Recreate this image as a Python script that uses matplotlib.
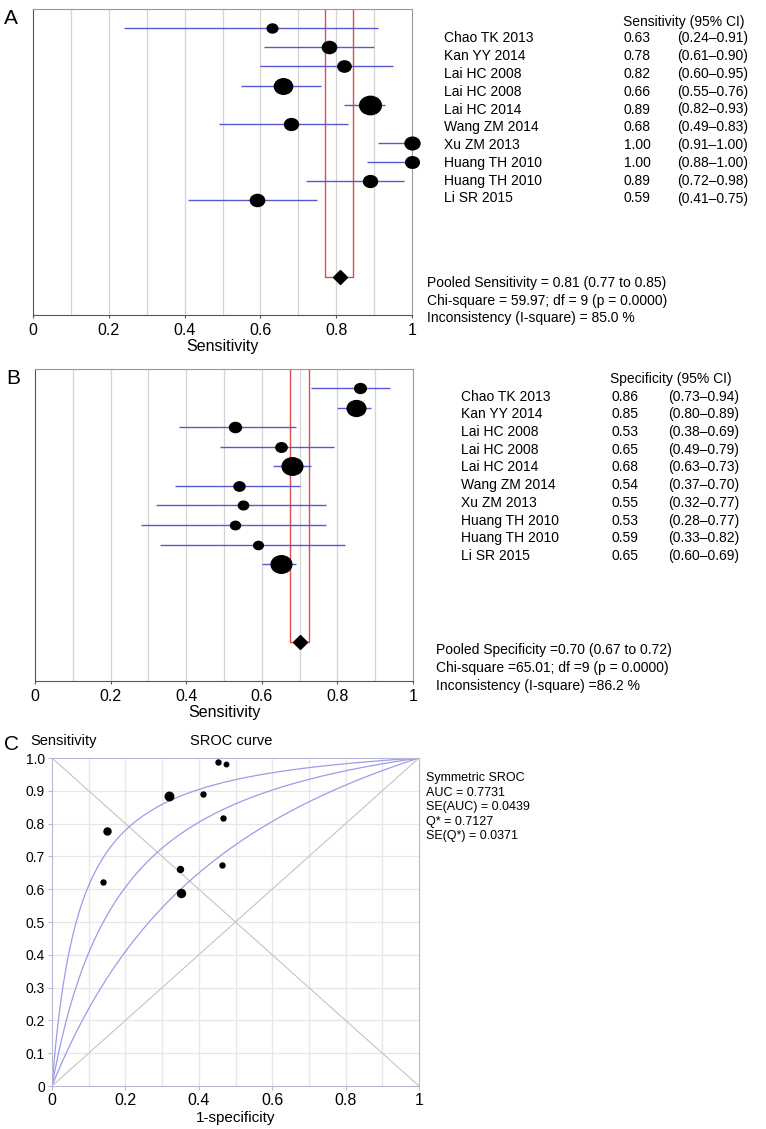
import numpy as np
import matplotlib
matplotlib.use("Agg")
from matplotlib import pyplot as plt
from matplotlib.path import Path
from matplotlib.transforms import Affine2D

plt.rcParams['font.family'] = ['Liberation Sans', 'DejaVu Sans']

# study data
studies = ["Chao TK 2013", "Kan YY 2014", "Lai HC 2008", "Lai HC 2008", "Lai HC 2014",
           "Wang ZM 2014", "Xu ZM 2013", "Huang TH 2010", "Huang TH 2010", "Li SR 2015"]
sens = [0.63, 0.78, 0.82, 0.66, 0.89, 0.68, 1.00, 1.00, 0.89, 0.59]
sens_lo = [0.24, 0.61, 0.60, 0.55, 0.82, 0.49, 0.91, 0.88, 0.72, 0.41]
sens_hi = [0.91, 0.90, 0.95, 0.76, 0.93, 0.83, 1.00, 1.00, 0.98, 0.75]
sens_weight = [10.7, 14.3, 13.3, 18.3, 21.7, 14.0, 15.0, 13.7, 14.0, 14.3]
spec = [0.86, 0.85, 0.53, 0.65, 0.68, 0.54, 0.55, 0.53, 0.59, 0.65]
spec_lo = [0.73, 0.80, 0.38, 0.49, 0.63, 0.37, 0.32, 0.28, 0.33, 0.60]
spec_hi = [0.94, 0.89, 0.69, 0.79, 0.73, 0.70, 0.77, 0.77, 0.82, 0.69]
spec_weight = [11.7, 18.7, 12.0, 11.3, 20.7, 11.0, 10.3, 10.0, 9.7, 20.7]

pooled_sens = [0.81, 0.77, 0.845]
pooled_spec = [0.70, 0.675, 0.725]

sens_stats = ["Pooled Sensitivity = 0.81 (0.77 to 0.85)",
              "Chi-square = 59.97; df = 9 (p = 0.0000)",
              "Inconsistency (I-square) = 85.0 %"]
spec_stats = ["Pooled Specificity =0.70 (0.67 to 0.72)",
              "Chi-square =65.01; df =9 (p = 0.0000)",
              "Inconsistency (I-square) =86.2 %"]

# SROC panel
roc_fpr = [0.14, 0.15, 0.466, 0.349, 0.32, 0.463, 0.453, 0.473, 0.412, 0.352]
roc_tpr = [0.623, 0.777, 0.816, 0.661, 0.885, 0.675, 0.987, 0.982, 0.891, 0.587]
roc_weight = [5, 7, 5, 6, 8.5, 5, 5, 4.5, 5, 8]
sroc_q = [0.79, 0.7127, 0.625]   # Q* of upper, fitted and lower curve
sroc_stats = ["Symmetric SROC", "AUC = 0.7731", "SE(AUC) = 0.0439",
              "Q* = 0.7127", "SE(Q*) = 0.0371"]

W, H = 766, 1129
fig = plt.figure(figsize=(W / 100, H / 100), dpi=100)


def ft(x, y, s, **kw):
    kw.setdefault('va', 'center')
    kw.setdefault('fontsize', 10)
    fig.text(x / W, 1 - y / H, s, **kw)


def box(x0, y0, x1, y1):
    return [x0 / W, 1 - y1 / H, (x1 - x0) / W, (y1 - y0) / H]


ellipse = Path(Affine2D().scale(1.18, 1.0).transform(Path.unit_circle().vertices),
               Path.unit_circle().codes)


def forest(rect, est, lo, hi, wt, pooled, letter, lpos):
    ax = fig.add_axes(rect)
    rows = np.arange(1, len(est) + 1)
    for v in np.arange(0.1, 1.0, 0.1):
        ax.axvline(v, color='#d4d4d4', lw=0.9, zorder=0)
    ax.hlines(rows, lo, hi, color='#5858d0', lw=1.0, zorder=2)
    for r, e, w in zip(rows, est, wt):
        ax.plot(e, r, marker=ellipse, ms=w * 0.72, color='black', ls='none',
                zorder=3, clip_on=False)
    pr = 14
    ax.plot([pooled[1], pooled[1], pooled[2], pooled[2]], [0, pr, pr, 0],
            color='#d9504f', lw=1.0, zorder=1)
    ax.plot(pooled[0], pr, marker='D', ms=7.5, color='black', zorder=4)
    ax.set_xlim(0, 1)
    ax.set_ylim(16, 0)
    ax.set_yticks([])
    ax.set_xticks([0, 0.2, 0.4, 0.6, 0.8, 1.0])
    ax.set_xticklabels(["0", "0.2", "0.4", "0.6", "0.8", "1"], fontsize=11.5)
    ax.tick_params(axis='x', length=2.5, width=0.8, color='#555555', pad=3)
    for s in ['left', 'bottom']:
        ax.spines[s].set_color('#555555')
    for s in ['top', 'right']:
        ax.spines[s].set_color('#999999')
    ax.set_xlabel("Sensitivity", fontsize=11.5, labelpad=1)
    ft(lpos[0], lpos[1], letter, fontsize=15)
    return ax


forest(box(33, 9, 412, 315), sens, sens_lo, sens_hi, sens_weight, pooled_sens, "A", (4, 18))
forest(box(35, 369, 413, 681), spec, spec_lo, spec_hi, spec_weight, pooled_spec, "B", (6, 379))

# right side tables
ft(623, 22, "Sensitivity (95% CI)")
for i, name in enumerate(studies):
    y = 38.3 + i * 17.8
    ft(444, y, name)
    ft(624, y, f"{sens[i]:.2f}")
    ft(677, y, f"({sens_lo[i]:.2f}\u2013{sens_hi[i]:.2f})")
for i, s in enumerate(sens_stats):
    ft(427, 283 + i * 17.5, s)

ft(610, 379, "Specificity (95% CI)")
for i, name in enumerate(studies):
    y = 396.7 + i * 17.7
    ft(461, y, name)
    ft(611, y, f"{spec[i]:.2f}")
    ft(668, y, f"({spec_lo[i]:.2f}\u2013{spec_hi[i]:.2f})")
for i, s in enumerate(spec_stats):
    ft(436, 650 + i * 18, s)

# panel C: SROC
axc = fig.add_axes(box(52, 758, 419, 1086))
ticks = np.round(np.arange(0, 1.01, 0.1), 1)
for v in ticks[1:-1]:
    axc.axvline(v, color='#e6e6e6', lw=0.9, zorder=0)
    axc.axhline(v, color='#e6e6e6', lw=0.9, zorder=0)
axc.plot([0, 1], [0, 1], color='#c4c4c4', lw=0.8, zorder=1)
axc.plot([0, 1], [1, 0], color='#c4c4c4', lw=0.8, zorder=1)
fpr = np.linspace(1e-5, 1 - 1e-5, 600)
for q in sroc_q:
    d = 2 * np.log(q / (1 - q))
    tpr = 1 / (1 + np.exp(-(d + np.log(fpr / (1 - fpr)))))
    axc.plot(fpr, tpr, color='#9c9ce8', lw=0.9, zorder=2)
for x, y, w in zip(roc_fpr, roc_tpr, roc_weight):
    axc.plot(x, y, marker='o', ms=w * 0.72, color='black', ls='none', zorder=3)
axc.set_xlim(0, 1)
axc.set_ylim(0, 1)
axc.set_yticks(ticks)
axc.set_yticklabels(["0"] + [f"{t:.1f}" for t in ticks[1:]], fontsize=10)
axc.set_xticks([0, 0.2, 0.4, 0.6, 0.8, 1.0])
axc.set_xticklabels(["0", "0.2", "0.4", "0.6", "0.8", "1"], fontsize=11.5)
axc.tick_params(length=3, width=0.8, color='#b8b8d0', pad=2)
for s in axc.spines.values():
    s.set_color('#b8b8d4')
axc.set_xlabel("1-specificity", fontsize=11, labelpad=2)
ft(4, 745, "C", fontsize=15)
ft(30, 741, "Sensitivity", fontsize=10.5)
ft(190, 741, "SROC curve", fontsize=10.5)
for i, s in enumerate(sroc_stats):
    ft(426, 778 + i * 14.5, s, fontsize=9)

fig.savefig("out.png", dpi=100)
